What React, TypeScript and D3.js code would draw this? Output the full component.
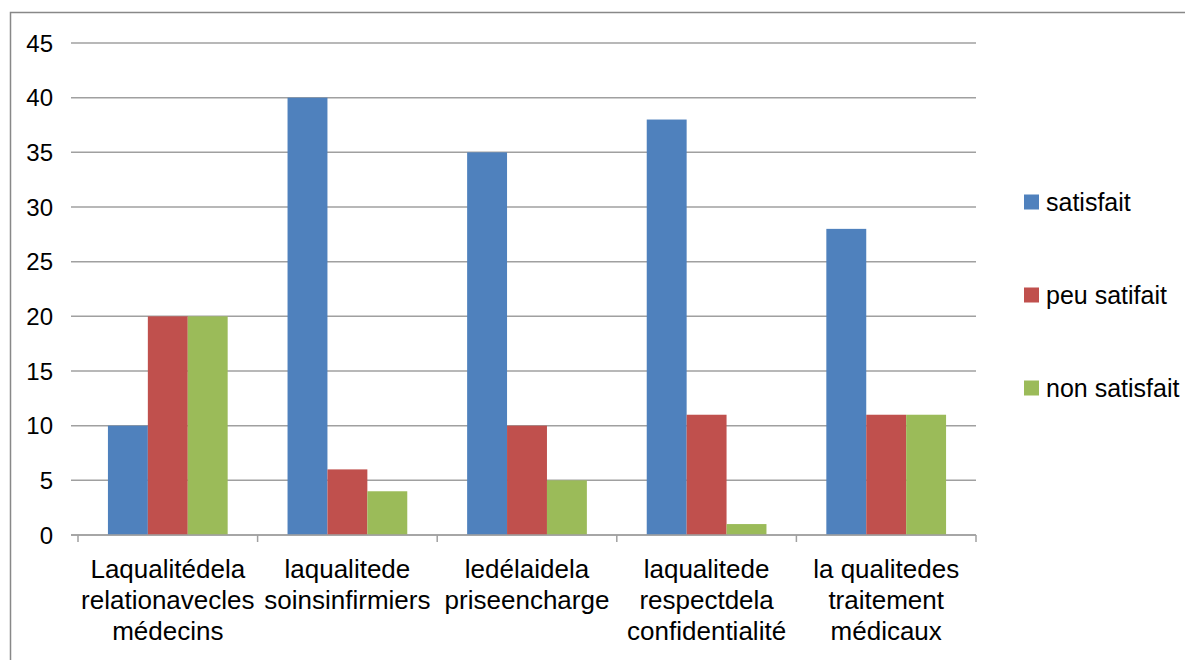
import React from 'react';
import * as d3 from 'd3';

// categories, each label already split into the lines shown under the axis
const categories = ['c1', 'c2', 'c3', 'c4', 'c5'];
const categoryLines = [
  ['Laqualitédela', 'relationavecles', 'médecins'],
  ['laqualitede', 'soinsinfirmiers'],
  ['ledélaidela', 'priseencharge'],
  ['laqualitede', 'respectdela', 'confidentialité'],
  ['la qualitedes', 'traitement', 'médicaux'],
];
const seriesNames = ['satisfait', 'peu satifait', 'non satisfait'];
const satisfait = [10, 40, 35, 38, 28];
const peuSatifait = [20, 6, 10, 11, 11];
const nonSatisfait = [20, 4, 5, 1, 11];
const yTicks = [0, 5, 10, 15, 20, 25, 30, 35, 40, 45];

const colors = ['#4F81BD', '#C0504D', '#9BBB59'];
const series = [satisfait, peuSatifait, nonSatisfait];

const W = 1185;
const H = 660;
const left = 78, right = 976, top = 43, bottom = 535;
const font = '"Liberation Sans", Arial, sans-serif';

export default function App() {
  const x = d3.scaleBand().domain(categories).range([left, right]).paddingInner(0).paddingOuter(0);
  const inner = d3.scaleBand().domain(seriesNames).range([0, x.bandwidth()]).paddingOuter(0.75).paddingInner(0);
  const y = d3.scaleLinear().domain([0, 45]).range([bottom, top]);

  // tick positions at category boundaries
  const bounds = categories.map(c => x(c) as number).concat([right]);

  return (
    <div style={{ position: 'absolute', left: 0, top: 0 }}>
      <svg width={W} height={H} style={{ display: 'block', background: '#fff' }}>
        <rect x={10.5} y={12.5} width={W + 10} height={H + 10} fill="#fff" stroke="#888" strokeWidth={1.5} />

        {/* gridlines + y labels */}
        {yTicks.map(t => (
          <g key={t}>
            <line x1={left - 7} x2={right} y1={y(t)} y2={y(t)} stroke="#a0a0a0" strokeWidth={1.5} />
            <text x={53} y={y(t)} dy="0.36em" textAnchor="end" fontFamily={font} fontSize={24} fill="#000">{t}</text>
          </g>
        ))}

        {/* bars */}
        {series.map((vals, si) =>
          vals.map((v, ci) => (
            <rect
              key={`${si}-${ci}`}
              x={(x(categories[ci]) as number) + (inner(seriesNames[si]) as number)}
              y={y(v)}
              width={inner.bandwidth()}
              height={y(0) - y(v)}
              fill={colors[si]}
            />
          ))
        )}

        {/* x axis */}
        <line x1={left - 7} x2={right} y1={bottom} y2={bottom} stroke="#a0a0a0" strokeWidth={1.5} />
        {bounds.map((b, i) => (
          <line key={i} x1={b} x2={b} y1={bottom} y2={bottom + 7} stroke="#a0a0a0" strokeWidth={1.5} />
        ))}

        {/* category labels */}
        {categories.map((c, ci) => (
          <text key={c} textAnchor="middle" fontFamily={font} fontSize={26} fill="#000">
            {categoryLines[ci].map((ln, li) => (
              <tspan key={li} x={(x(c) as number) + x.bandwidth() / 2} y={578 + li * 31}>{ln}</tspan>
            ))}
          </text>
        ))}

        {/* legend */}
        {seriesNames.map((s, i) => {
          const cy = 202 + i * 93;
          return (
            <g key={s}>
              <rect x={1024} y={cy - 7.5} width={15} height={15} fill={colors[i]} />
              <text x={1046} y={cy} dy="0.36em" fontFamily={font} fontSize={25} fill="#000">{s}</text>
            </g>
          );
        })}
      </svg>
    </div>
  );
}
